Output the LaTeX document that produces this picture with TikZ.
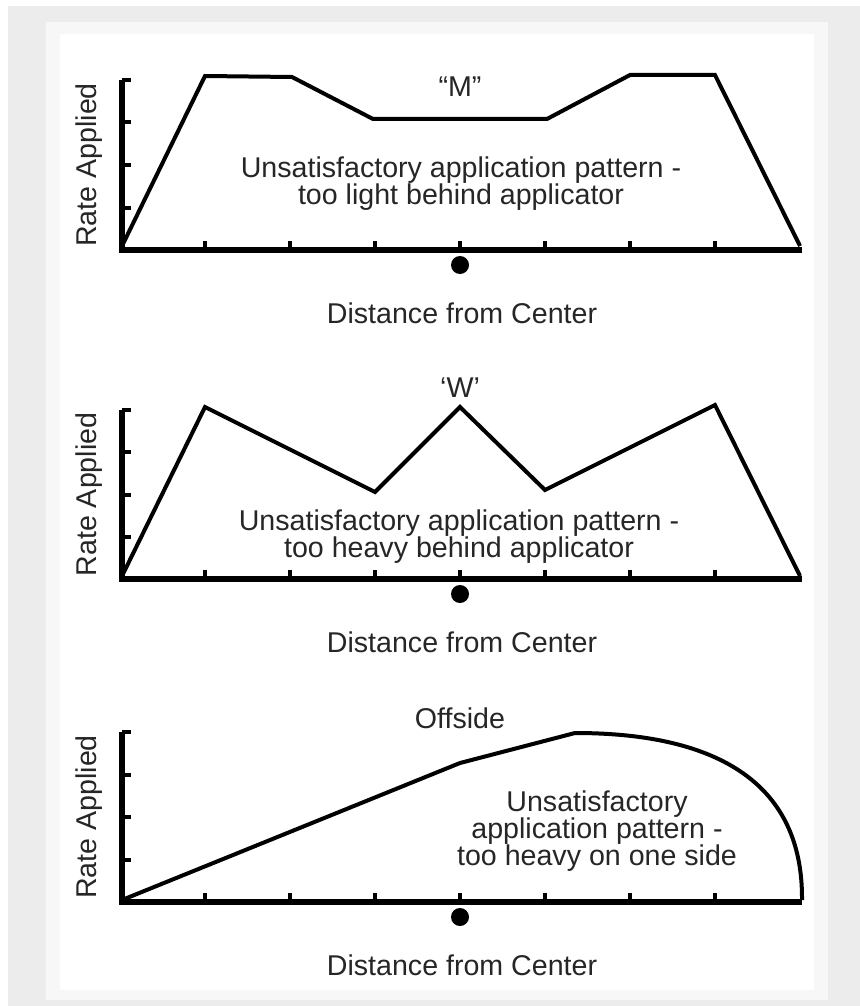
\documentclass[tikz,border=0pt]{standalone}
\usepackage{fontspec}
\setmainfont{Liberation Sans}
\usepackage{tikz}
\usetikzlibrary{calc}
\tikzset{every picture/.append style={font=\fontsize{14.3}{13.6}\selectfont}}
\tikzset{
  axis/.style={line width=3pt},
  tick/.style={line width=2pt},
  curve/.style={line width=2pt,line join=miter},
  lbl/.style={inner sep=0pt,text=black!85},
  note/.style={lbl,align=center},
}
\definecolor{figgray}{HTML}{ECECEC}
\definecolor{figpanel}{HTML}{F7F7F7}

\begin{document}
\begin{tikzpicture}[x=0.5pt,y=-0.5pt]
    \useasboundingbox (0,0) rectangle (860,1006);
    \fill[white] (0,0) rectangle (860,1006);
    \fill[figgray] (8,6) rectangle (860,1006);
    \fill[figpanel] (46,22) rectangle (828,1000);
    \fill[white] (60,34) rectangle (814,990);
    % axes, ticks, centre dot and labels of the three charts
    \foreach \t/\b/\i in {80/250/1, 410/579/2, 732/902/3} {
      \pgfmathsetmacro{\dy}{(\b-\t)/4}
      \draw[axis] (122,\t) -- (122,\b) -- (802,\b);
      \foreach \k in {0,1,2,3} {
        \draw[tick] (122,\t+\k*\dy) -- (131,\t+\k*\dy);
      }
      \foreach \x in {205,290,...,715} {
        \draw[tick] (\x,\b) -- (\x,\b-9);
      }
      \fill (460,\b+15) circle[radius=4.5pt];
      \node[lbl] (dist\i) at (462,\b+63) {Distance from Center};
      \node[lbl,rotate=90] (rate\i) at (89,{(\t+\b)/2}) {Rate Applied};
    }
    % "M" pattern
    \draw[curve] (122,246) -- (205,76) -- (292,77) -- (373,119) -- (547,119)
      -- (630,75) -- (715,75) -- (800,246);
    \node[lbl] (mtitle) at (460,87) {“M”};
    \node[note] (mnote) at (461,184) {Unsatisfactory application pattern -\\too light behind applicator};
    % "W" pattern
    \draw[curve] (122,576) -- (205,407) -- (375,492) -- (460,407) -- (545,490)
      -- (715,405) -- (800,576);
    \node[lbl] (wtitle) at (460,388) {‘W’};
    \node[note] (wnote) at (459,537) {Unsatisfactory application pattern -\\too heavy behind applicator};
    % offside pattern
    \draw[curve] (122,900) -- (460,763) -- (575,733)
      .. controls (720,733) and (803,785) .. (802,900);
    \node[lbl] (otitle) at (460,718) {Offside};
    \node[note] (onote) at (597,831) {Unsatisfactory\\application pattern -\\too heavy on one side};
\end{tikzpicture}
\end{document}
